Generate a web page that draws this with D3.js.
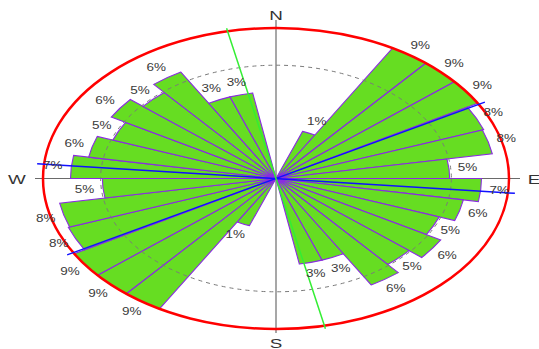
<!DOCTYPE html>
<html>
<head>
<meta charset="utf-8">
<script src="https://cdn.jsdelivr.net/npm/d3@7"></script>
<style>
  html, body { margin: 0; padding: 0; background: #fff; }
  svg { display: block; }
</style>
</head>
<body>
<svg id="chart" width="539" height="349"></svg>
<script>
// ---- data ----
// sector start bearings (deg, clockwise from North), 10° bins
const sectorStarts = d3.range(0, 360, 10);
// frequency (%) per 10° sector for 0..170; the rose is axial, so 180..350 mirror these
const halfValues = [0, 0, 1, 9, 9, 9, 8.1, 8, 5, 7, 6, 5, 6, 5, 6, 3, 3, 0];
const values = halfValues.concat(halfValues);
const maxValue = 9;
const ringValues = [5.1];            // dashed reference ring
const blueLineBearings = [60.5, 95.5];
const greenLineBearings = [348];
const compass = [
  {label: "N", bearing: 0},
  {label: "E", bearing: 90},
  {label: "S", bearing: 180},
  {label: "W", bearing: 270}
];

// ---- layout ----
const cx = 276, cy = 178.5, rx = 233, ry = 150.5;
const U = 100; // unit radius in local (circular) space
const svg = d3.select("#chart");
const r = d3.scaleSqrt().domain([0, maxValue]).range([0, U]);
const rad = d => d * Math.PI / 180;
const px = (b, rr) => cx + rx * (rr / U) * Math.sin(rad(b));
const py = (b, rr) => cy - ry * (rr / U) * Math.cos(rad(b));

// axes
svg.append("line").attr("x1", cx).attr("x2", cx).attr("y1", 20).attr("y2", 333)
  .attr("stroke", "#8a8a8a").attr("stroke-width", 1.5);
svg.append("line").attr("x1", 35).attr("x2", 520).attr("y1", cy).attr("y2", cy)
  .attr("stroke", "#6a6a6a").attr("stroke-width", 1.2);

const g = svg.append("g")
  .attr("transform", `translate(${cx},${cy}) scale(${rx / U},${ry / U})`);

const arc = d3.arc().innerRadius(0);
const data = sectorStarts.map((s, i) => ({start: s, value: values[i]})).filter(d => d.value > 0);

g.selectAll("path.bar").data(data).join("path")
  .attr("class", "bar")
  .attr("d", d => arc({outerRadius: r(d.value), startAngle: rad(d.start), endAngle: rad(d.start + 10)}))
  .attr("fill", "#66dd22")
  .attr("stroke", "#8a2be2")
  .attr("stroke-width", 1.1)
  .attr("vector-effect", "non-scaling-stroke");

// dashed ring
g.selectAll("circle.ring").data(ringValues).join("circle")
  .attr("r", d => r(d)).attr("fill", "none")
  .attr("stroke", "#7a7a7a").attr("stroke-width", 1)
  .attr("stroke-dasharray", "4,4")
  .attr("vector-effect", "non-scaling-stroke");

// outer ellipse
g.append("circle").attr("r", r(maxValue)).attr("fill", "none")
  .attr("stroke", "#ff0000").attr("stroke-width", 2.5)
  .attr("vector-effect", "non-scaling-stroke");

// direction lines
const lineR = 1.03 * U;
svg.selectAll("line.blue").data(blueLineBearings).join("line")
  .attr("x1", b => px(b, lineR)).attr("y1", b => py(b, lineR))
  .attr("x2", b => px(b + 180, lineR)).attr("y2", b => py(b + 180, lineR))
  .attr("stroke", "#1010ff").attr("stroke-width", 1.5);
svg.selectAll("line.green").data(greenLineBearings).join("line")
  .attr("x1", b => px(b, 1.02 * U)).attr("y1", b => py(b, 1.02 * U))
  .attr("x2", b => px(b + 180, 1.02 * U)).attr("y2", b => py(b + 180, 1.02 * U))
  .attr("stroke", "#33ee33").attr("stroke-width", 1.5);

// percentage labels
svg.selectAll("text.pct").data(data).join("text")
  .attr("class", "pct")
  .attr("transform", d => {
    const b = d.start + 5, rr = r(d.value) + 0.08 * U;
    return `translate(${px(b, rr)},${py(b, rr)}) scale(1.35,1)`;
  })
  .attr("text-anchor", "middle").attr("dominant-baseline", "central")
  .attr("font-family", "Liberation Sans, Arial, sans-serif")
  .attr("font-size", 10).attr("fill", "#3a3a3a")
  .text(d => Math.round(d.value) + "%");

// compass letters
const compassPos = {N: [cx, 15], E: [534, 179], S: [cx, 343], W: [17, 179]};
svg.selectAll("text.dir").data(compass).join("text")
  .attr("class", "dir")
  .attr("transform", d => `translate(${compassPos[d.label][0]},${compassPos[d.label][1]}) scale(1.45,1)`)
  .attr("text-anchor", "middle").attr("dominant-baseline", "central")
  .attr("font-family", "Liberation Sans, Arial, sans-serif")
  .attr("font-size", 13).attr("fill", "#333")
  .text(d => d.label);
</script>
</body>
</html>
